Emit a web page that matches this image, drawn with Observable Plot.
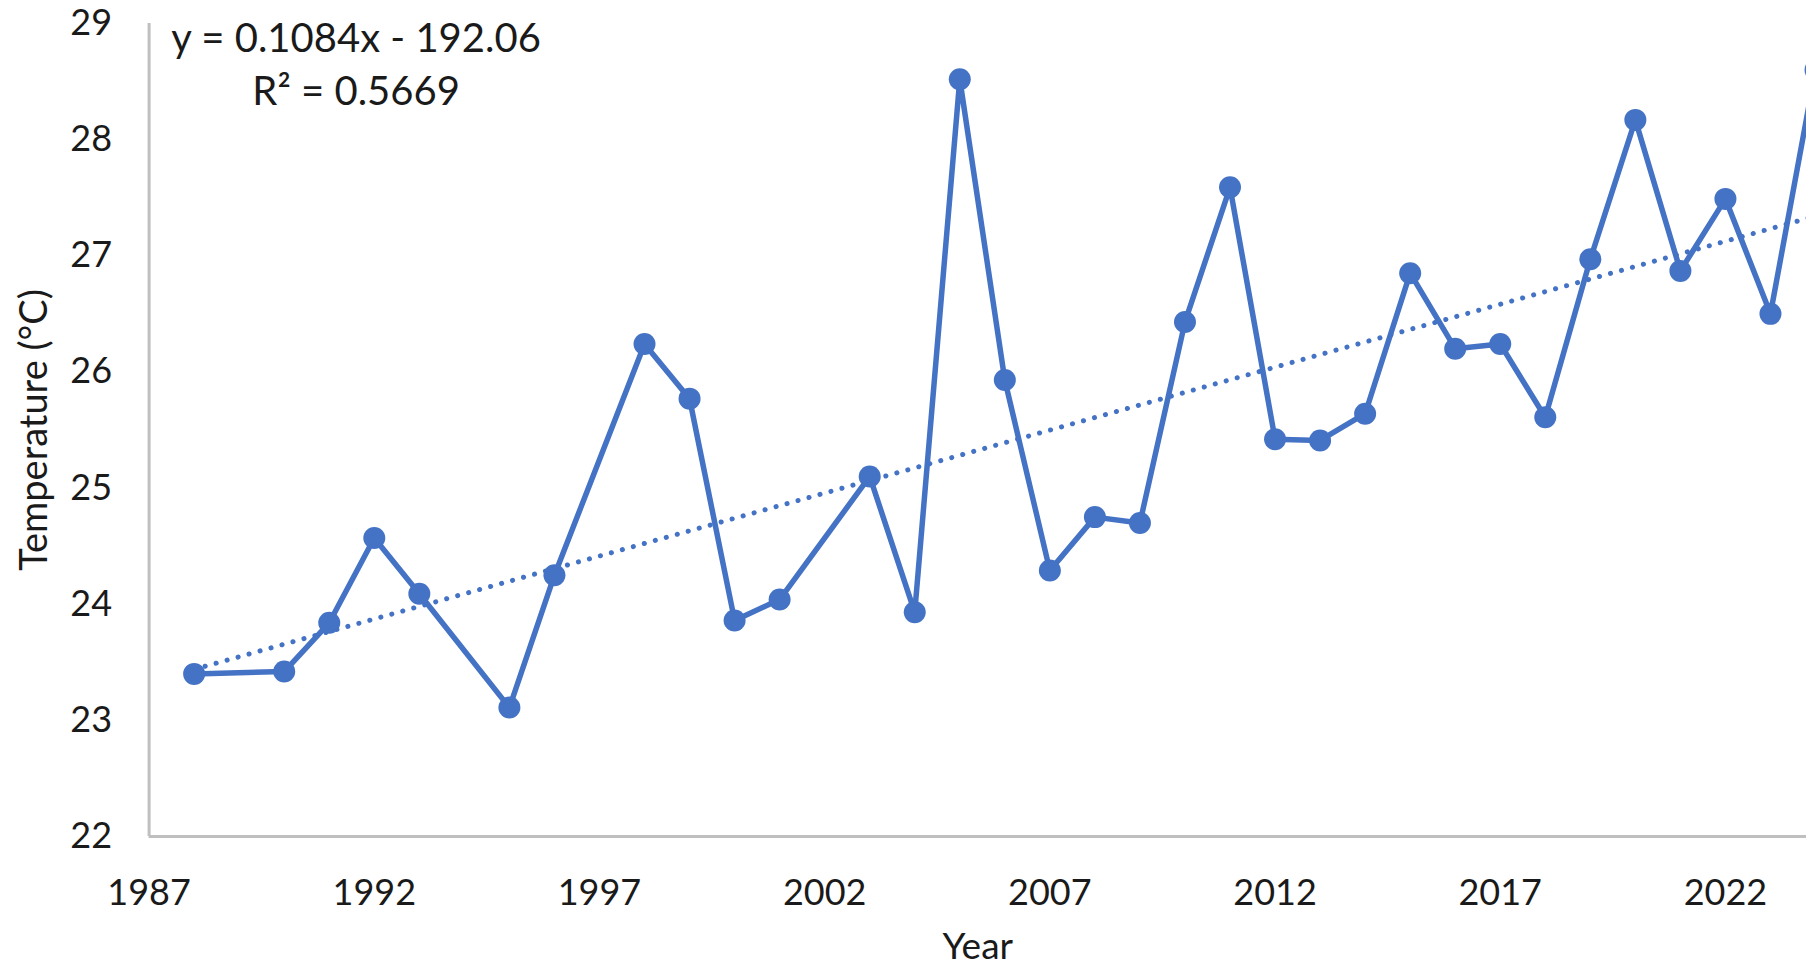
<!DOCTYPE html>
<html><head><meta charset="utf-8">
<script src="https://cdn.jsdelivr.net/npm/d3@7"></script>
<script src="https://cdn.jsdelivr.net/npm/@observablehq/plot@0.6"></script>
<style>
html,body{margin:0;padding:0;background:#fff;overflow:hidden;}
#chart svg{display:block;}
</style></head><body><div id="chart"></div>
<script>
const years = [1988,1990,1991,1992,1993,1995,1996,1998,1999,2000,2001,2003,2004,2005,2006,2007,2008,2009,2010,2011,2012,2013,2014,2015,2016,2017,2018,2019,2020,2021,2022,2023,2024];
const temps = [23.40,23.42,23.84,24.57,24.09,23.11,24.25,26.24,25.77,23.86,24.04,25.10,23.93,28.52,25.93,24.29,24.75,24.70,26.43,27.59,25.42,25.41,25.64,26.85,26.20,26.24,25.61,26.97,28.17,26.87,27.49,26.50,28.60];
const xTicks = [1987,1992,1997,2002,2007,2012,2017,2022];
const yTicks = [22,23,24,25,26,27,28,29];
const trendSlope = 0.1084;
const trendIntercept = -192.06;
const equationLines = ["y = 0.1084x - 192.06", "R\u00B2 = 0.5669"];
const yLabel = "Temperature (\u00B0C)";
const xLabel = "Year";

const data = years.map((year, i) => ({year, temp: temps[i]}));
const trend = [years[0], years[years.length - 1]].map(year => ({year, temp: trendSlope * year + trendIntercept}));

const blue = "#4472C4";
const axisGrey = "#BFBFBF";
const ink = "#1a1a1a";

const chart = Plot.plot({
  width: 1806, height: 970,
  marginLeft: 148.6, marginRight: 0, marginTop: 23, marginBottom: 134,
  style: {fontFamily: "Lato, 'Open Sans', sans-serif", fontSize: "36px", color: ink, background: "#fff", overflow: "hidden"},
  x: {domain: [1987, 2023.8]},
  y: {domain: [22, 29]},
  marks: [
    Plot.axisX({ticks: xTicks, tickFormat: d => String(d), tickSize: 0, tickPadding: 43, label: null}),
    Plot.axisY({ticks: yTicks, tickFormat: d => String(d), tickSize: 0, tickPadding: 37, label: null}),
    Plot.ruleY([22], {stroke: axisGrey, strokeWidth: 3}),
    Plot.ruleX([1987], {stroke: axisGrey, strokeWidth: 3}),
    Plot.line(trend, {x: "year", y: "temp", stroke: blue, strokeWidth: 5, strokeDasharray: "0.1 11.3", strokeLinecap: "round"}),
    Plot.line(data, {x: "year", y: "temp", stroke: blue, strokeWidth: 5.5}),
    Plot.dot(data, {x: "year", y: "temp", r: 11, fill: blue}),
    Plot.text([equationLines.join("\n")], {text: d => d, frameAnchor: "top-left", textAnchor: "middle", lineAnchor: "middle", dx: 207, dy: 38, lineHeight: 1.32, fontSize: 40, fill: ink}),
    Plot.text([yLabel], {text: d => d, frameAnchor: "left", textAnchor: "middle", lineAnchor: "middle", rotate: -90, dx: -114, fontSize: 38, fill: ink}),
    Plot.text([xLabel], {text: d => d, frameAnchor: "bottom", textAnchor: "middle", lineAnchor: "middle", dy: 111, fontSize: 37, fill: ink})
  ]
});
document.getElementById("chart").appendChild(chart);
</script>
</body></html>
